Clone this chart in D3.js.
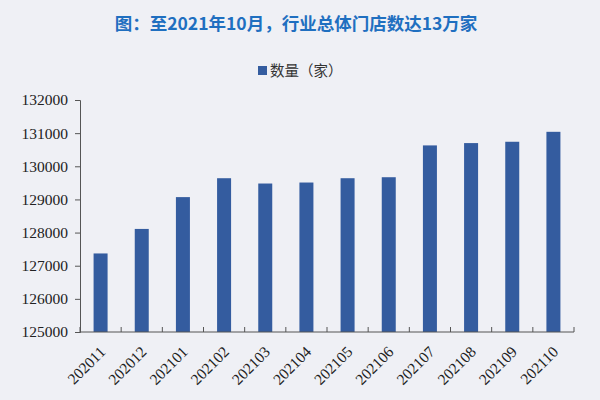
<!DOCTYPE html>
<html>
<head>
<meta charset="utf-8">
<script src="https://cdn.jsdelivr.net/npm/d3@7"></script>
<style>
  body { margin: 0; background: #eff0f5; }
  svg { display: block; }
  svg text.num { font-family: "Liberation Serif", "Tinos", "DejaVu Serif", serif; }
</style>
</head>
<body>
<svg id="chart" width="600" height="400"></svg>
<script>
// data
var months = ["202011","202012","202101","202102","202103","202104","202105","202106","202107","202108","202109","202110"];
var stores = [127370, 128110, 129070, 129640, 129480, 129510, 129640, 129670, 130630, 130700, 130740, 131040];
var yTicks = [125000, 126000, 127000, 128000, 129000, 130000, 131000, 132000];

var svg = d3.select("#chart");
var margin = {left: 80, right: 26, top: 100, bottom: 68};
var width = 600 - margin.left - margin.right,
    height = 400 - margin.top - margin.bottom;

svg.append("rect").attr("width", 600).attr("height", 400).attr("fill", "#eff0f5");

// title
svg.append("text")
  .attr("x", 296).attr("y", 30)
  .attr("text-anchor", "middle")
  .attr("font-family", "'Noto Sans CJK SC', sans-serif")
  .attr("font-weight", "bold")
  .attr("font-size", 17.5)
  .attr("fill", "#1f6fc0")
  .text("图：至2021年10月，行业总体门店数达13万家");

// legend
svg.append("rect").attr("x", 258).attr("y", 66).attr("width", 9).attr("height", 9).attr("fill", "#345c9f");
svg.append("text")
  .attr("x", 270).attr("y", 76)
  .attr("font-family", "'Noto Sans CJK SC', serif")
  .attr("font-size", 14.5)
  .attr("fill", "#333")
  .text("数量（家）");

var g = svg.append("g").attr("transform", "translate(" + margin.left + "," + margin.top + ")");

var x = d3.scaleBand().domain(months).range([0, width]);
var y = d3.scaleLinear().domain([125000, 132000]).range([height, 0]);

// bars
g.selectAll("rect.bar").data(stores).enter().append("rect")
  .attr("class", "bar")
  .attr("x", function(d, i) { return x(months[i]) + x.bandwidth() / 2 - 7; })
  .attr("width", 14)
  .attr("y", function(d) { return y(d); })
  .attr("height", function(d) { return height - y(d); })
  .attr("fill", "#345c9f");

// y axis
var yAxis = g.append("g")
  .call(d3.axisLeft(y).tickValues(yTicks).tickFormat(d3.format("d")).tickSize(5).tickPadding(7));
yAxis.attr("font-family", "Liberation Serif, serif");
yAxis.select(".domain").attr("stroke", "#555");
yAxis.selectAll(".tick line").attr("stroke", "#555");
yAxis.selectAll("text")
  .attr("class", "num")
  .style("font-family", "'Liberation Serif', serif")
  .attr("font-size", 15.5)
  .attr("fill", "#222");

// x axis, ticks at category boundaries
var xAxis = g.append("g").attr("transform", "translate(0," + height + ")");
xAxis.append("line").attr("x1", 0).attr("x2", width).attr("stroke", "#555");
xAxis.selectAll("line.tk").data(d3.range(months.length + 1)).enter().append("line")
  .attr("class", "tk")
  .attr("x1", function(i) { return i * x.step(); })
  .attr("x2", function(i) { return i * x.step(); })
  .attr("y1", -5).attr("y2", 0)
  .attr("stroke", "#555");
xAxis.selectAll("text").data(months).enter().append("text")
  .attr("class", "num")
  .style("font-family", "'Liberation Serif', serif")
  .attr("transform", function(d) { return "translate(" + (x(d) + x.bandwidth() / 2 + 2) + ",17) rotate(-45)"; })
  .attr("text-anchor", "end")
  .attr("dy", "0.35em")
  .attr("font-size", 15.5)
  .attr("fill", "#222")
  .text(function(d) { return d; });
</script>
</body>
</html>
